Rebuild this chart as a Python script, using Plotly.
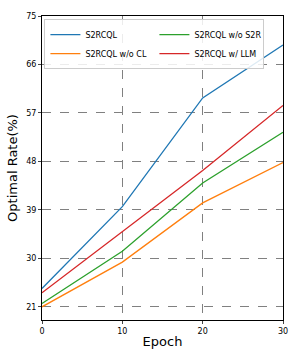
import plotly.graph_objects as go

epochs = [0, 10, 20, 30]
s2rcql = [24.4, 39.6, 59.8, 69.6]
wo_cl = [21.0, 29.3, 40.3, 47.8]
wo_s2r = [21.6, 31.3, 44.0, 53.4]
w_llm = [23.6, 35.0, 46.3, 58.4]
y_ticks = [21, 30, 39, 48, 57, 66, 75]
x_ticks = [0, 10, 20, 30]

series = [
    ("S2RCQL", s2rcql, "#1f77b4", 1),
    ("S2RCQL w/o S2R", wo_s2r, "#2ca02c", 2),
    ("S2RCQL w/o CL", wo_cl, "#ff7f0e", 3),
    ("S2RCQL w/ LLM", w_llm, "#d62728", 4),
]

fig = go.Figure()
for name, vals, color, rank in series:
    fig.add_trace(go.Scatter(x=epochs, y=vals, mode="lines", name=name,
                             line=dict(color=color, width=1.3), legendrank=rank))

font = "DejaVu Sans, sans-serif"
fig.update_layout(
    width=300, height=360,
    margin=dict(l=42, r=14, t=12, b=40),
    paper_bgcolor="white", plot_bgcolor="white",
    font=dict(family=font, color="black"),
    showlegend=True,
    legend=dict(orientation="h", x=0.01, y=0.99, xanchor="left", yanchor="top",
                entrywidth=64, font=dict(size=8, family=font),
                bordercolor="#cccccc", borderwidth=1, bgcolor="rgba(255,255,255,0.85)",
                tracegroupgap=0, itemwidth=30),
    xaxis=dict(range=[0, 30], tickvals=x_ticks, ticks="outside", ticklen=3,
               tickfont=dict(size=8), showline=True, mirror=True, linecolor="black",
               linewidth=1, showgrid=True, gridcolor="#808080", griddash="dash",
               gridwidth=1, zeroline=False,
               title=dict(text="Epoch", font=dict(size=13), standoff=2)),
    yaxis=dict(range=[18.55, 75], tickvals=y_ticks, ticks="outside", ticklen=3,
               tickfont=dict(size=8), showline=True, mirror=True, linecolor="black",
               linewidth=1, showgrid=True, gridcolor="#808080", griddash="dash",
               gridwidth=1, zeroline=False,
               title=dict(text="Optimal Rate(%)", font=dict(size=13), standoff=5)),
)
fig.write_html("out.html", config={"displayModeBar": False},
               post_script="document.body.style.margin='0';")
